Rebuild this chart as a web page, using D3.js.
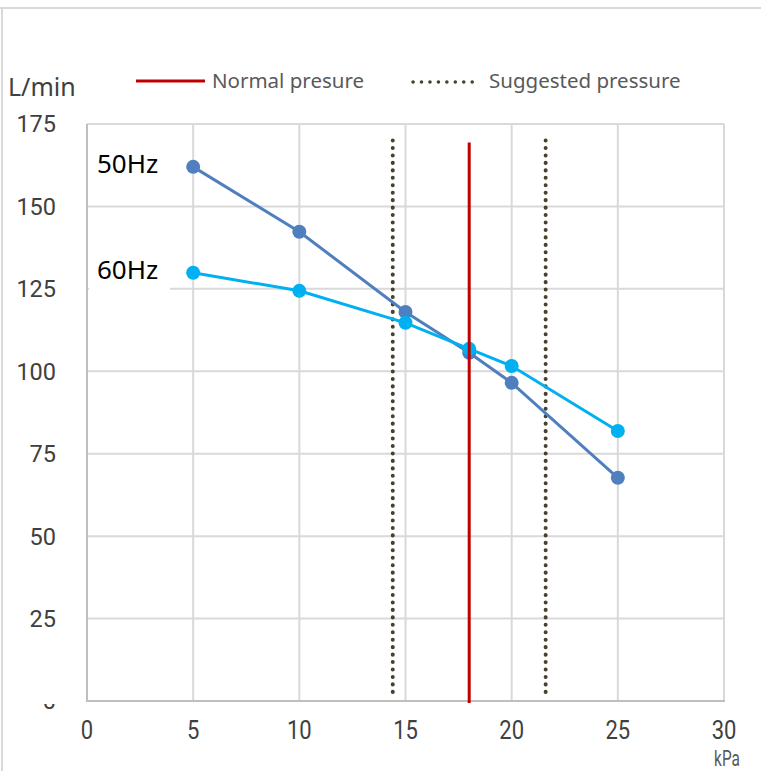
<!DOCTYPE html>
<html>
<head>
<meta charset="utf-8">
<script src="https://cdn.jsdelivr.net/npm/d3@7"></script>
<style>
  body { margin: 0; background: #fff; }
  svg { display: block; }
  .tick-label { font-family: Roboto, "Noto Sans", sans-serif; fill: #404040; }
  .legend-text { font-family: "Noto Sans", "Open Sans", sans-serif; font-size: 20.5px; fill: #595959; }
</style>
</head>
<body>
<div id="chart"></div>
<script>
// data
const pressures = [5, 10, 15, 18, 20, 25];
const flow50 = [162, 142.3, 118, 105.6, 96.5, 67.7];
const flow60 = [129.9, 124.4, 114.7, 106.8, 101.6, 81.9];
const seriesNames = ['50Hz', '60Hz'];
const normalPressure = [18];
const suggestedPressure = [14.4, 21.6];
const markerTop = 170;
const xTicks = [0, 5, 10, 15, 20, 25, 30];
const yTicks = [0, 25, 50, 75, 100, 125, 150, 175];

const width = 761, height = 771;
const colors = { '50Hz': '#4f7fbe', '60Hz': '#00b0f0' };

let svg = d3.select('#chart').append('svg')
    .attr('width', width)
    .attr('height', height);

// outer frame (top and left edges only are visible)
svg.append('line').attr('x1', 0).attr('x2', width).attr('y1', 8).attr('y2', 8)
    .attr('stroke', '#d9d9d9').attr('stroke-width', 2);
svg.append('line').attr('x1', 2).attr('x2', 2).attr('y1', 8).attr('y2', height)
    .attr('stroke', '#d9d9d9').attr('stroke-width', 2);

let x = d3.scaleLinear().domain([0, 30]).range([87, 724]);
let y = d3.scaleLinear().domain([0, 175]).range([701, 124]);

// grid
let grid = svg.append('g').classed('grid', true);
grid.selectAll('.vgrid')
    .data(xTicks.slice(1))
    .enter().append('line')
    .attr('x1', d => x(d)).attr('x2', d => x(d))
    .attr('y1', y(0)).attr('y2', y(175))
    .attr('stroke', '#d9d9d9').attr('stroke-width', 2);
grid.selectAll('.hgrid')
    .data(yTicks.slice(1))
    .enter().append('line')
    .attr('x1', x(0)).attr('x2', x(30))
    .attr('y1', d => y(d)).attr('y2', d => y(d))
    .attr('stroke', '#d9d9d9').attr('stroke-width', 2);

// axis lines
svg.append('line').attr('x1', x(0)).attr('x2', x(0)).attr('y1', y(0)).attr('y2', y(175))
    .attr('stroke', '#bfbfbf').attr('stroke-width', 2);
svg.append('line').attr('x1', x(0) - 1).attr('x2', x(30) + 1).attr('y1', y(0)).attr('y2', y(0))
    .attr('stroke', '#bfbfbf').attr('stroke-width', 2);

// tick labels
svg.append('clipPath').attr('id', 'ylab-clip')
    .append('rect').attr('x', 0).attr('y', y(0) + 3).attr('width', 80).attr('height', 40);
svg.selectAll('.ylab')
    .data(yTicks)
    .enter().append('text')
    .classed('tick-label', true)
    .style('font-size', '23.5px')
    .attr('x', 56)
    .attr('y', d => y(d))
    .attr('dy', '0.36em')
    .attr('text-anchor', 'end')
    .attr('clip-path', d => d === 0 ? 'url(#ylab-clip)' : null)
    .text(d => d);

svg.selectAll('.xlab')
    .data(xTicks)
    .enter().append('text')
    .classed('tick-label', true)
    .style('font-size', '25px')
    .attr('transform', d => `translate(${x(d)} 739) scale(0.88 1)`)
    .attr('text-anchor', 'middle')
    .text(d => d);

svg.append('text')
    .classed('tick-label', true)
    .style('font-size', '22px')
    .attr('transform', `translate(${x(30) + 3} 766) scale(0.7 1)`)
    .attr('text-anchor', 'middle')
    .style('fill', '#595959')
    .text('kPa');

svg.append('text')
    .attr('x', 8).attr('y', 96)
    .style('font-family', '"Noto Sans", "Open Sans", sans-serif')
    .style('font-size', '25px')
    .style('fill', '#404040')
    .text('L/min');

// pressure markers
let markerLine = d3.line().x(d => x(d[0])).y(d => y(d[1]));
svg.selectAll('.suggested')
    .data(suggestedPressure)
    .enter().append('path')
    .attr('d', d => markerLine([[d, markerTop], [d, 1.8]]))
    .attr('stroke', '#48412c')
    .attr('stroke-width', 4)
    .attr('stroke-linecap', 'round')
    .attr('stroke-dasharray', '0.1 7.35')
    .attr('fill', 'none');

// series
let line = d3.line().x(d => x(d[0])).y(d => y(d[1]));
let series = [
    { name: '50Hz', values: pressures.map((p, i) => [p, flow50[i]]) },
    { name: '60Hz', values: pressures.map((p, i) => [p, flow60[i]]) }
];
series.forEach(s => {
    svg.append('path')
        .datum(s.values)
        .attr('d', line)
        .attr('fill', 'none')
        .attr('stroke', colors[s.name])
        .attr('stroke-width', 3);
    svg.selectAll(`.dot-${s.name}`)
        .data(s.values)
        .enter().append('circle')
        .attr('cx', d => x(d[0]))
        .attr('cy', d => y(d[1]))
        .attr('r', 7)
        .attr('fill', colors[s.name]);
});

svg.selectAll('.normal')
    .data(normalPressure)
    .enter().append('path')
    .attr('d', d => markerLine([[d, markerTop], [d, 0]]))
    .attr('transform', 'translate(0 2)')
    .attr('stroke', '#c00000')
    .attr('stroke-width', 3)
    .attr('fill', 'none');

// series labels
let labelY = { '50Hz': 173, '60Hz': 279 };
seriesNames.forEach(name => {
    svg.append('rect')
        .attr('x', 89).attr('y', labelY[name] - 26)
        .attr('width', 81).attr('height', 37)
        .attr('fill', '#fff');
    svg.append('text')
        .attr('x', 97).attr('y', labelY[name])
        .style('font-family', '"Noto Sans", "Open Sans", sans-serif')
        .style('font-size', '26px')
        .style('fill', '#000')
        .text(name);
});

// legend
svg.append('line')
    .attr('x1', 136).attr('x2', 205).attr('y1', 81).attr('y2', 81)
    .attr('stroke', '#c00000').attr('stroke-width', 3);
svg.append('text').classed('legend-text', true)
    .attr('x', 212).attr('y', 88).text('Normal presure');
svg.append('line')
    .attr('x1', 413).attr('x2', 480).attr('y1', 82).attr('y2', 82)
    .attr('stroke', '#48412c').attr('stroke-width', 3.5)
    .attr('stroke-linecap', 'round')
    .attr('stroke-dasharray', '0.1 8.35');
svg.append('text').classed('legend-text', true)
    .attr('x', 489).attr('y', 88).text('Suggested pressure');
</script>
</body>
</html>
